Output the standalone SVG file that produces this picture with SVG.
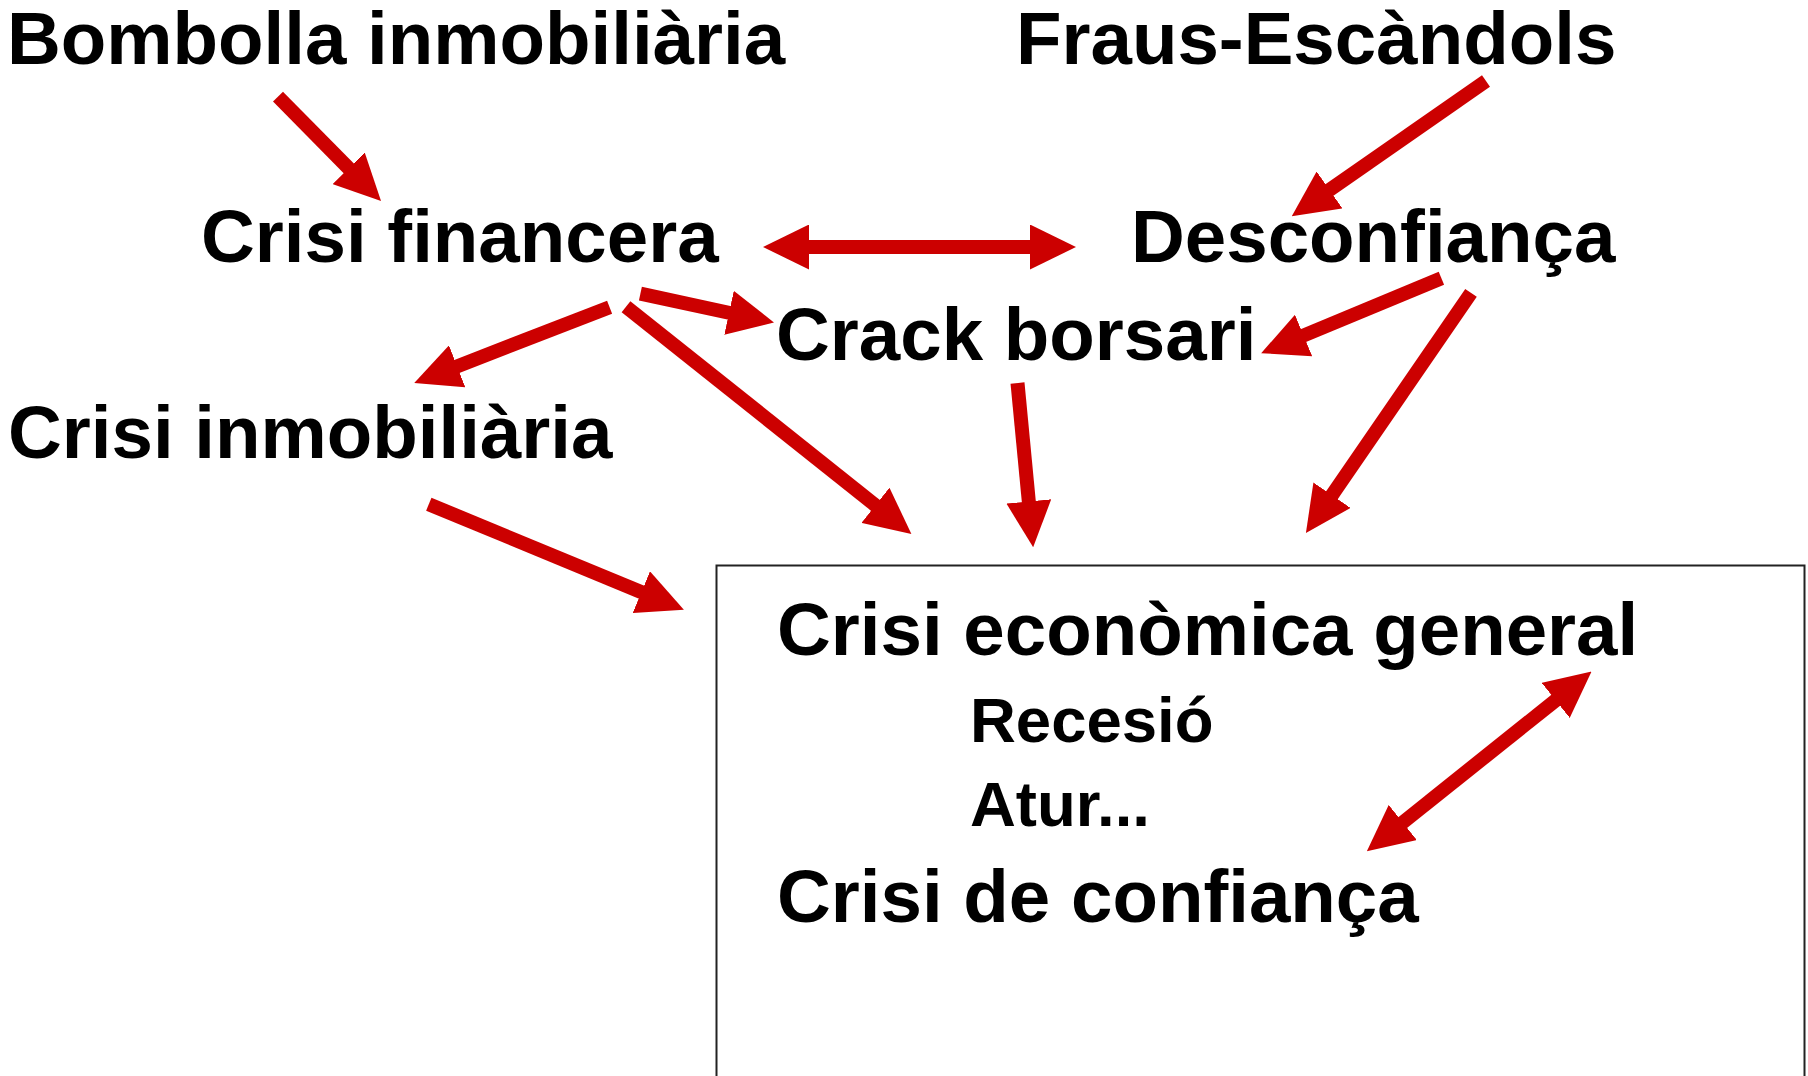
<svg xmlns="http://www.w3.org/2000/svg" width="1808" height="1076" viewBox="0 0 1808 1076">
<style>
.t{font-family:"Liberation Sans",Arial,sans-serif;font-weight:bold;fill:#000}
.b{font-size:74.5px}
.s{font-size:63.5px}
.c{stroke:#CC0000;stroke-width:14;fill:none;marker-end:url(#ah)}
.d{marker-start:url(#ah)}
</style>
<defs>
<marker id="ah" markerUnits="userSpaceOnUse" markerWidth="46" markerHeight="45" refX="1" refY="22.5" orient="auto-start-reverse">
<path d="M0,0 L46,22.5 L0,45 Z" fill="#CC0000"/>
</marker>
</defs>
<rect x="0" y="0" width="1808" height="1076" fill="#fff"/>
<g id="connectors">
<line class="c" x1="278" y1="96.7" x2="349.4" y2="169"/>
<line class="c" x1="1486" y1="81" x2="1328.7" y2="190.5"/>
<line class="c d" x1="808" y1="247" x2="1031" y2="247"/>
<line class="c" x1="609.6" y1="307.2" x2="456.2" y2="366.7"/>
<line class="c" x1="640.4" y1="293.7" x2="730" y2="313"/>
<line class="c" x1="626" y1="306.7" x2="876.2" y2="505.9"/>
<line class="c" x1="1017.5" y1="383" x2="1028.9" y2="502.4"/>
<line class="c" x1="1441.4" y1="278.2" x2="1302.7" y2="335.9"/>
<line class="c" x1="1471" y1="292.9" x2="1331.4" y2="496"/>
<line class="c" x1="428.8" y1="504.2" x2="642.3" y2="592.5"/>
<line class="c d" x1="1402" y1="823.1" x2="1556.4" y2="699.7"/>
</g>
<g id="bombolla"><text class="t b" x="7" y="64">Bombolla inmobiliària</text></g>
<g id="fraus"><text class="t b" x="1016" y="64">Fraus-Escàndols</text></g>
<g id="crisi-financera"><text class="t b" x="201" y="262">Crisi financera</text></g>
<g id="desconfianca"><text class="t b" x="1131" y="262">Desconfiança</text></g>
<g id="crack-borsari"><text class="t b" x="776" y="360">Crack borsari</text></g>
<g id="crisi-inmobiliaria"><text class="t b" x="8" y="458">Crisi inmobiliària</text></g>
<g id="crisi-economica">
<rect x="716.5" y="565.5" width="1088" height="600" fill="none" stroke="#222" stroke-width="2"/>
<text class="t b" x="777" y="655">Crisi econòmica general</text>
<text class="t s" x="970" y="742">Recesió</text>
<text class="t s" x="970" y="826">Atur...</text>
<text class="t b" x="777" y="922">Crisi de confiança</text>
</g>
</svg>
